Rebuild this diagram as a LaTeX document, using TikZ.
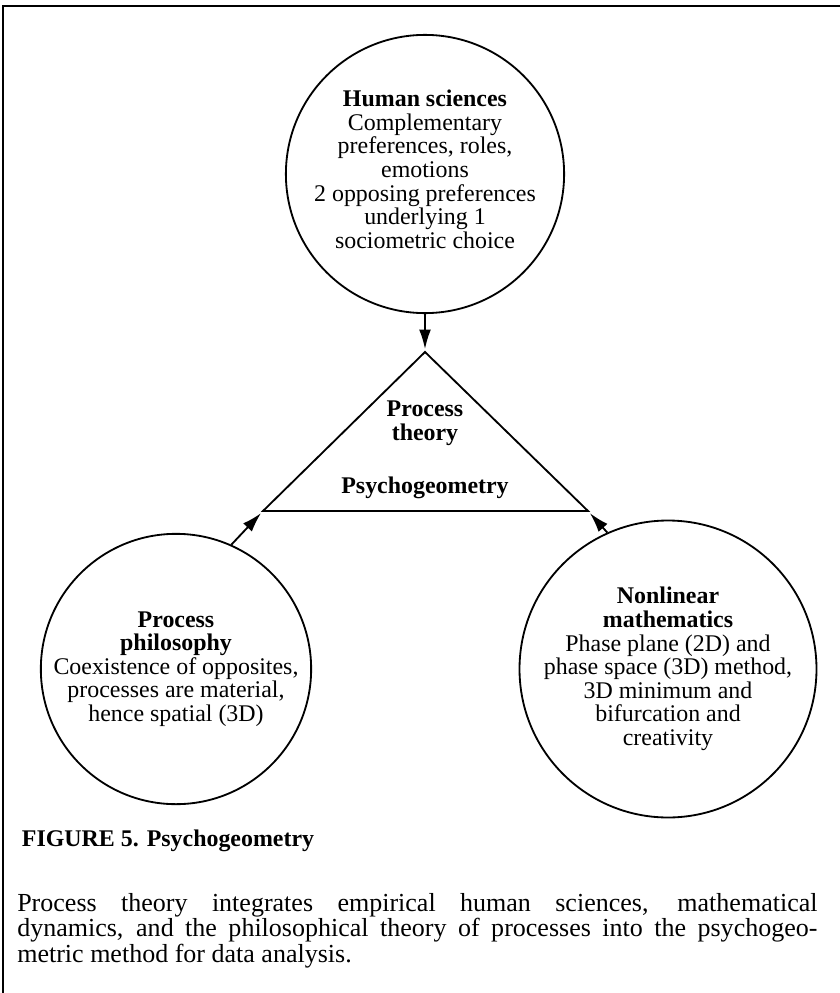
\documentclass[tikz,border=0pt]{standalone}
\usepackage{fontspec}
\setmainfont{Liberation Serif}
\usetikzlibrary{arrows.meta}

\begin{document}
\begin{tikzpicture}[x=0.025cm, y=-0.025cm,
    bubble/.style={circle, draw, line width=1.3pt, minimum size=6.7cm, inner sep=0pt,
        align=center, font=\fontsize{17}{16.8}\selectfont},
    link/.style={-{Latex[length=14pt,width=8.5pt]}, line width=1.3pt, shorten >=2pt}]
    \useasboundingbox (0,0) rectangle (840,993);

    % The frame
    \draw[line width=1.3pt] (3,993) -- (3,6);
    \draw[line width=1.8pt] (2,6) -- (840,6);

    % The circles
    \node[bubble] (human) at (425,174) {\textbf{Human sciences}\\Complementary\\preferences, roles,\\emotions\\2 opposing preferences\\underlying 1\\sociometric choice\\[-10pt]};
    \node[bubble] (philo) at (176,669) {\textbf{Process}\\\textbf{philosophy}\\Coexistence of opposites,\\processes are material,\\hence spatial (3D)};
    \node[bubble] (math) at (668,669) {\textbf{Nonlinear}\\\textbf{mathematics}\\Phase plane (2D) and\\phase space (3D) method,\\3D minimum and\\bifurcation and\\creativity};

    % The triangle
    \coordinate (apex) at (425,352);
    \coordinate (left) at (263,511);
    \coordinate (right) at (588,511);
    \draw[line width=1.3pt] (apex) -- (left) -- (right) -- cycle;
    \node[font=\fontsize{17}{16.8}\selectfont\bfseries, align=center] (theory) at (425,423) {Process\\theory};
    \node[font=\fontsize{17}{16.8}\selectfont\bfseries] (geometry) at (425,488) {Psychogeometry};

    % The arrows
    \draw[link] (human) -- (apex);
    \draw[link] (philo.66) -- (left);
    \draw[link] (math.114) -- (right);

    % The caption
    \node[anchor=base west, font=\fontsize{17}{17}\selectfont\bfseries] (title) at (17,846) {FIGURE 5. Psychogeometry};
    \node[anchor=north west, inner sep=0pt, align=left, font=\fontsize{18.5}{16.3}\selectfont] (text) at (17,893)
        {\makebox[20cm][s]{Process theory integrates empirical human sciences, mathematical}\\
         \makebox[20cm][s]{dynamics, and the philosophical theory of processes into the psychogeo-}\\
         metric method for data analysis.};
\end{tikzpicture}
\end{document}
